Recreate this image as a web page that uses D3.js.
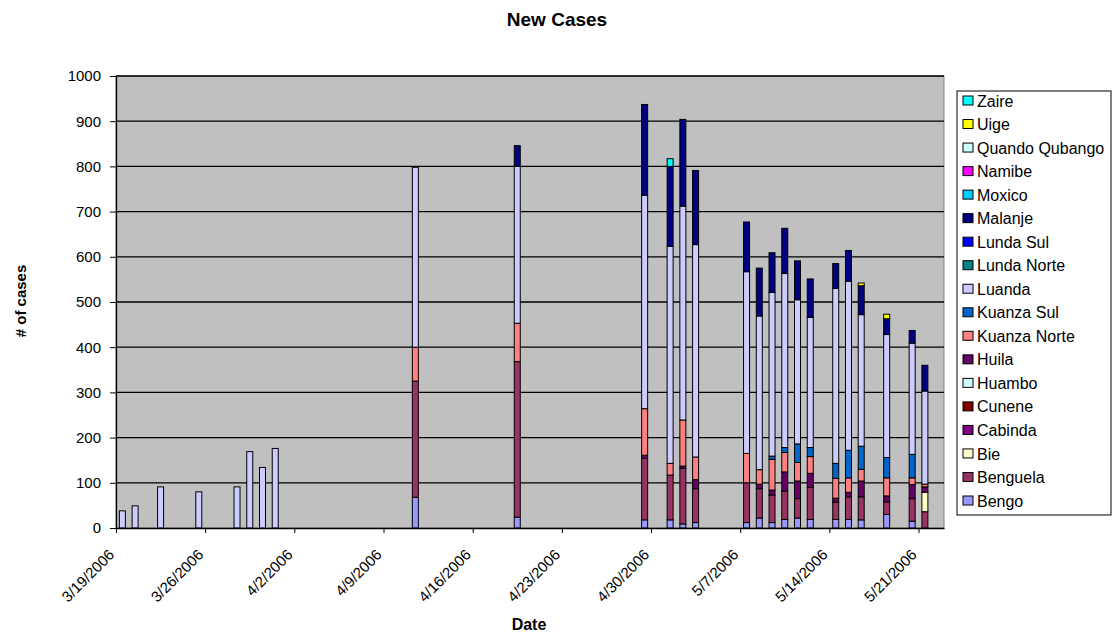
<!DOCTYPE html>
<html>
<head>
<meta charset="utf-8">
<script src="https://cdn.jsdelivr.net/npm/d3@7"></script>
<style>
  body { margin: 0; background: #fff; }
  svg { font-family: "Liberation Sans", Arial, sans-serif; }
</style>
</head>
<body>
<svg width="1113" height="634"></svg>
<script>
// dates of the bars
const dates = ["2006-03-19","2006-03-20","2006-03-22","2006-03-25","2006-03-28","2006-03-29","2006-03-30","2006-03-31",
  "2006-04-11","2006-04-19",
  "2006-04-29","2006-05-01","2006-05-02","2006-05-03",
  "2006-05-07","2006-05-08","2006-05-09","2006-05-10","2006-05-11","2006-05-12",
  "2006-05-14","2006-05-15","2006-05-16",
  "2006-05-18","2006-05-20","2006-05-21"];

// provinces, stacked from bottom to top
const regions = ["Bengo","Benguela","Bie","Cabinda","Cunene","Huambo","Huila","Kuanza Norte","Kuanza Sul",
  "Luanda","Lunda Norte","Lunda Sul","Malanje","Moxico","Namibe","Quando Qubango","Uige","Zaire"];
const colors = ["#9999ff","#993366","#ffffcc","#800080","#800000","#ccffff","#660066","#ff8080","#0066cc",
  "#ccccff","#008080","#0000ff","#000080","#00ccff","#ff00ff","#ccffff","#ffff00","#00ffff"];

const zeros = dates.map(() => 0);
const bengo       = [0,0,0,0,0,0,0,0, 68,24, 18,18,9,12, 12,22,12,19,22,19, 19,19,18, 30,15,0];
const benguela    = [0,0,0,0,0,0,0,0, 257,344, 136,99,123,75, 88,65,61,63,43,71, 38,50,51, 28,50,36];
const bie         = [0,0,0,0,0,0,0,0, 0,0, 0,0,0,0, 0,0,0,0,0,0, 0,0,0, 0,0,43];
const huila       = [0,0,0,0,0,0,0,0, 0,0, 7,0,5,20, 0,10,11,42,39,31, 9,10,35, 13,31,12];
const kuanzaNorte = [0,0,0,0,0,0,0,0, 75,85, 103,26,102,50, 65,32,68,43,41,37, 44,32,26, 40,15,6];
const kuanzaSul   = [0,0,0,0,0,0,0,0, 0,0, 0,0,0,0, 0,0,7,11,41,20, 33,61,51, 45,52,0];
const luanda      = [38,49,91,80,91,169,134,176, 398,347, 472,480,473,470, 402,340,362,385,319,288, 387,374,291, 272,246,206];
const malanje     = [0,0,0,0,0,0,0,0, 0,46, 201,177,192,164, 110,106,88,100,86,85, 55,68,64, 35,28,57];
const uige        = [0,0,0,0,0,0,0,0, 0,0, 0,0,0,0, 0,0,0,0,0,0, 0,0,6, 10,0,0];
const zaire       = [0,0,0,0,0,0,0,0, 0,0, 0,17,0,0, 0,0,0,0,0,0, 0,0,0, 0,0,0];

const values = {
  "Bengo": bengo, "Benguela": benguela, "Bie": bie, "Cabinda": zeros, "Cunene": zeros, "Huambo": zeros,
  "Huila": huila, "Kuanza Norte": kuanzaNorte, "Kuanza Sul": kuanzaSul, "Luanda": luanda,
  "Lunda Norte": zeros, "Lunda Sul": zeros, "Malanje": malanje, "Moxico": zeros, "Namibe": zeros,
  "Quando Qubango": zeros, "Uige": uige, "Zaire": zaire
};

const yTicks = [0,100,200,300,400,500,600,700,800,900,1000];

const parse = d3.timeParse("%Y-%m-%d");
const table = dates.map((d, i) => {
  const row = { date: parse(d) };
  regions.forEach(r => row[r] = values[r][i]);
  return row;
});

const svg = d3.select("svg");
const plotL = 116, plotR = 944, plotT = 76, plotB = 528;

const x = d3.scaleTime().domain([parse("2006-03-19"), parse("2006-05-23")]).range([plotL, plotR]);
const y = d3.scaleLinear().domain([0, 1000]).range([plotB, plotT]);
const dayW = x(parse("2006-03-20")) - x(parse("2006-03-19"));
const barW = 6;

// plot area
svg.append("rect")
  .attr("x", plotL).attr("y", plotT)
  .attr("width", plotR - plotL).attr("height", plotB - plotT)
  .attr("fill", "#c0c0c0")
  .attr("stroke", "#808080");

// gridlines
svg.append("g").selectAll("line")
  .data(yTicks.slice(1))
  .enter().append("line")
  .attr("x1", plotL).attr("x2", plotR)
  .attr("y1", d => y(d)).attr("y2", d => y(d))
  .attr("stroke", "#000").attr("stroke-width", 1.3);

// stacked bars
const stack = d3.stack().keys(regions)(table);
svg.append("g").selectAll("g")
  .data(stack)
  .enter().append("g")
  .attr("fill", (d, i) => colors[i])
  .selectAll("rect")
  .data(d => d.filter(p => p[1] - p[0] > 0))
  .enter().append("rect")
  .attr("x", d => x(d.data.date) + (dayW - barW) / 2)
  .attr("width", barW)
  .attr("y", d => y(d[1]))
  .attr("height", d => y(d[0]) - y(d[1]))
  .attr("stroke", "#000")
  .attr("stroke-width", 1);

// y axis
const yAxis = svg.append("g")
  .attr("transform", "translate(" + plotL + ",0)")
  .call(d3.axisLeft(y).tickValues(yTicks).tickSize(6).tickSizeOuter(0).tickFormat(d3.format("d")));
yAxis.select(".domain").attr("stroke-width", 1.3);
yAxis.selectAll("text").style("font-size", "15px").attr("fill", "#000").attr("x", -15);

// x axis
const weekTicks = d3.range(0, 10).map(i => d3.timeDay.offset(parse("2006-03-19"), i * 7));
const xAxis = svg.append("g")
  .attr("transform", "translate(0," + plotB + ")")
  .call(d3.axisBottom(x).tickValues(weekTicks).tickSize(5).tickSizeOuter(0)
    .tickFormat(d3.timeFormat("%-m/%-d/%Y")));
xAxis.select(".domain").attr("stroke-width", 1.3);
xAxis.selectAll("text")
  .style("font-size", "15px")
  .attr("fill", "#000")
  .attr("text-anchor", "end")
  .attr("transform", "translate(-5,24) rotate(-45)")
  .attr("y", 0).attr("dy", "0.35em");

// title
svg.append("text")
  .attr("x", 557).attr("y", 26)
  .attr("text-anchor", "middle")
  .style("font-size", "19px").style("font-weight", "bold")
  .text("New Cases");

// axis titles
svg.append("text")
  .attr("text-anchor", "middle")
  .attr("transform", "translate(26,301) rotate(-90)")
  .style("font-size", "15px").style("font-weight", "bold")
  .text("# of cases");

svg.append("text")
  .attr("x", 529).attr("y", 630)
  .attr("text-anchor", "middle")
  .style("font-size", "16px").style("font-weight", "bold")
  .text("Date");

// legend
const legend = svg.append("g");
legend.append("rect")
  .attr("x", 957).attr("y", 91)
  .attr("width", 154).attr("height", 424)
  .attr("fill", "#fff").attr("stroke", "#000");

const legendItems = regions.slice().reverse();
const item = legend.selectAll("g.item")
  .data(legendItems)
  .enter().append("g")
  .attr("class", "item")
  .attr("transform", (d, i) => "translate(963," + (101 + i * 23.53) + ")");
item.append("rect")
  .attr("x", 0).attr("y", -5)
  .attr("width", 10).attr("height", 9)
  .attr("fill", d => colors[regions.indexOf(d)])
  .attr("stroke", "#000");
item.append("text")
  .attr("x", 14).attr("dy", "0.35em")
  .style("font-size", "16px")
  .text(d => d);
</script>
</body>
</html>
